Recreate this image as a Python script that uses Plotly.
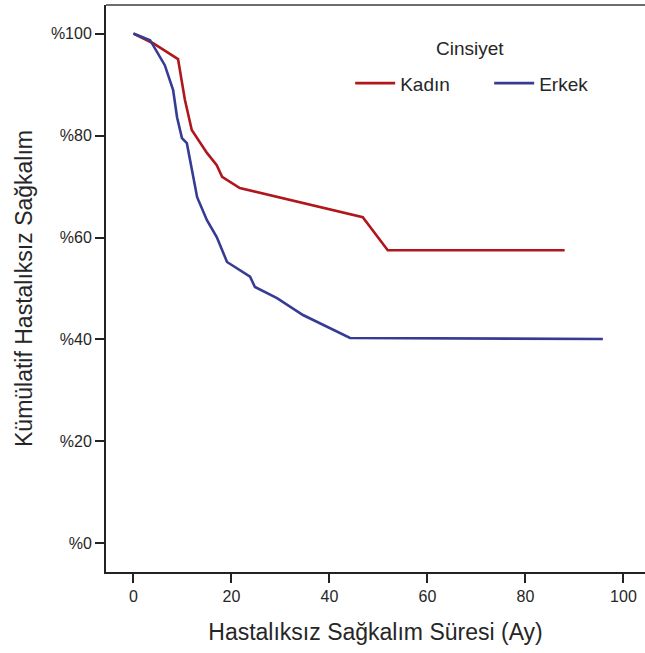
import plotly.graph_objects as go

# Kaplan-Meier style curves (months, cumulative disease-free survival %)
kadin_months = [0, 4, 9.1, 10.5, 11.9, 15, 17, 18.1, 21.7, 46.8, 51.9, 88]
kadin_surv = [100, 98.1, 95, 87, 81.1, 76.6, 74.2, 71.9, 69.7, 64, 57.5, 57.5]

erkek_months = [0, 3.4, 6.4, 8.1, 8.9, 9.9, 10.9, 11.9, 13, 15, 17, 19.1, 23.8, 24.8, 29.3, 34.6, 44.2, 95.8]
erkek_surv = [100, 98.7, 93.8, 88.9, 83.6, 79.5, 78.5, 73.8, 67.9, 63.4, 60.1, 55.2, 52.3, 50.3, 48.1, 44.8, 40.3, 40.1]

x_ticks = [0, 20, 40, 60, 80, 100]
y_ticks = [0, 20, 40, 60, 80, 100]
y_tick_labels = ["%0", "%20", "%40", "%60", "%80", "%100"]

FONT = "Liberation Sans, Arial, sans-serif"
TXT = "#262626"

fig = go.Figure()
fig.add_trace(go.Scatter(x=kadin_months, y=kadin_surv, mode="lines", name="Kadın",
                         line=dict(color="#b0171c", width=2.6)))
fig.add_trace(go.Scatter(x=erkek_months, y=erkek_surv, mode="lines", name="Erkek",
                         line=dict(color="#363c94", width=2.6)))

fig.update_layout(
    width=645, height=653,
    margin=dict(l=106, r=0, t=5, b=81, autoexpand=False),
    paper_bgcolor="white", plot_bgcolor="white",
    font=dict(family=FONT, color=TXT),
    showlegend=True,
    legend=dict(orientation="h", x=0.453, y=0.862, xanchor="left", yanchor="middle",
                font=dict(size=19, family=FONT, color=TXT),
                bgcolor="rgba(0,0,0,0)", itemwidth=40, entrywidth=84, entrywidthmode="pixels",
                tracegroupgap=0),
    xaxis=dict(range=[-5.6, 104.4], tickvals=x_ticks, ticks="outside", ticklen=9,
               tickwidth=2, tickcolor="#222", showline=True, linecolor="#222", linewidth=2,
               showgrid=False, zeroline=False,
               tickfont=dict(size=16, family=FONT, color=TXT),
               title=dict(text="Hastalıksız Sağkalım Süresi (Ay)", standoff=20,
                          font=dict(size=23, family=FONT, color=TXT))),
    yaxis=dict(range=[-5.6, 105.6], tickvals=y_ticks, ticktext=y_tick_labels, ticks="outside",
               ticklen=9, tickwidth=2, tickcolor="#222", showline=True, linecolor="#222",
               linewidth=2, showgrid=False, zeroline=False,
               tickfont=dict(size=16, family=FONT, color=TXT),
               title=dict(text="Kümülatif Hastalıksız Sağkalım", standoff=12,
                          font=dict(size=23, family=FONT, color=TXT))),
)

fig.add_annotation(text="Cinsiyet", xref="paper", yref="paper", x=0.675, y=0.924,
                   showarrow=False, xanchor="center", yanchor="middle",
                   font=dict(size=19, family=FONT, color=TXT))
fig.add_shape(type="line", xref="paper", yref="paper", x0=0, x1=1, y0=1, y1=1,
              line=dict(color="#6e6e6e", width=2))

fig.write_html("out.html")
